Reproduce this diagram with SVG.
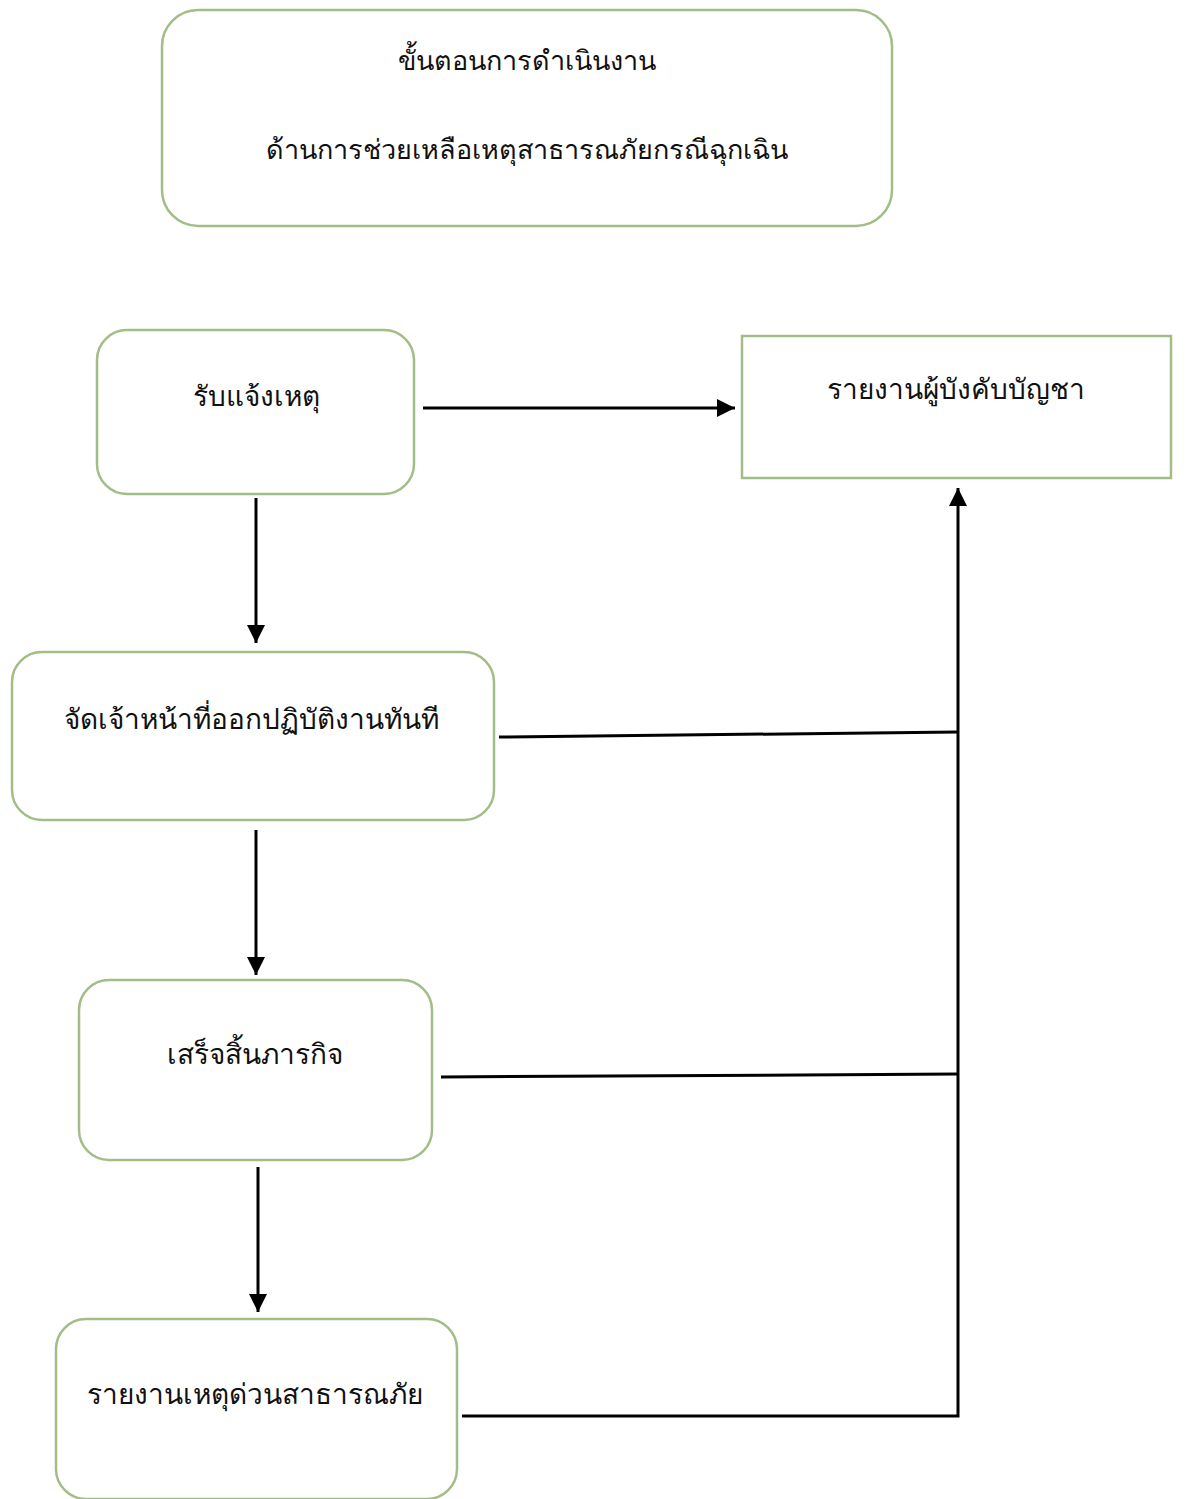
<svg xmlns="http://www.w3.org/2000/svg" width="1186" height="1499" viewBox="0 0 1186 1499">
<style>
.box{fill:#ffffff;stroke:#a3bd86;stroke-width:2.5}
.t{font-family:"Noto Sans","DejaVu Sans",sans-serif;font-size:28px;fill:#111;text-anchor:middle}
.tt{font-size:27px}
.c{stroke:#000;stroke-width:3;fill:none}
</style>
<defs>
<marker id="ah" viewBox="0 0 10 10" refX="10" refY="5" markerWidth="6.5" markerHeight="6" markerUnits="strokeWidth" orient="auto">
<path d="M0,0 L10,5 L0,10 z" fill="#000"/>
</marker>
</defs>
<rect width="1186" height="1499" fill="#fff"/>
<g id="title">
<rect class="box" x="162" y="10" width="730" height="216" rx="36"/>
<text class="t tt" x="527" y="70">ขั้นตอนการดำเนินงาน</text>
<text class="t tt" x="527" y="159">ด้านการช่วยเหลือเหตุสาธารณภัยกรณีฉุกเฉิน</text>
</g>
<g id="n1">
<rect class="box" x="97" y="330" width="317" height="164" rx="30"/>
<text class="t" x="256" y="406">รับแจ้งเหตุ</text>
</g>
<g id="report">
<rect class="box" x="742" y="336" width="429" height="142" fill="#fdfff8"/>
<text class="t" x="956" y="399">รายงานผู้บังคับบัญชา</text>
</g>
<g id="n2">
<rect class="box" x="12" y="652" width="482" height="168" rx="30"/>
<text class="t" x="251" y="729">จัดเจ้าหน้าที่ออกปฏิบัติงานทันที</text>
</g>
<g id="n3">
<rect class="box" x="79" y="980" width="353" height="180" rx="30"/>
<text class="t" x="255" y="1064">เสร็จสิ้นภารกิจ</text>
</g>
<g id="n4">
<rect class="box" x="56" y="1319" width="401" height="180" rx="30"/>
<text class="t" x="255" y="1404">รายงานเหตุด่วนสาธารณภัย</text>
</g>
<g id="connectors">
<line class="c" x1="423" y1="408" x2="735" y2="408" marker-end="url(#ah)"/>
<line class="c" x1="256" y1="498" x2="256" y2="643" marker-end="url(#ah)"/>
<line class="c" x1="256" y1="830" x2="256" y2="975" marker-end="url(#ah)"/>
<line class="c" x1="258" y1="1167" x2="258" y2="1312" marker-end="url(#ah)"/>
<line class="c" x1="499" y1="737" x2="958" y2="732"/>
<line class="c" x1="441" y1="1077" x2="958" y2="1074"/>
<polyline class="c" points="462,1416 958,1416 958,488" marker-end="url(#ah)"/>
</g>
</svg>
